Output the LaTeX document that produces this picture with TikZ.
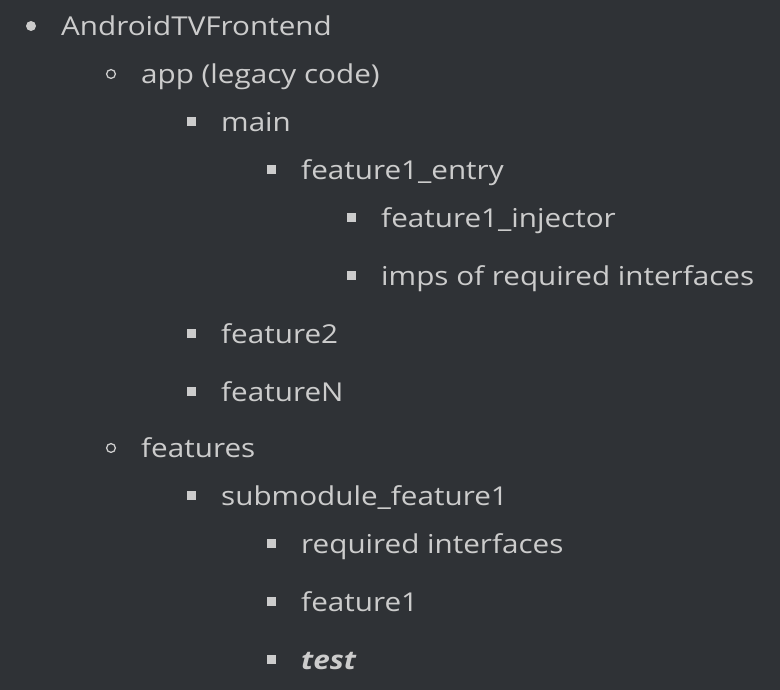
\documentclass[tikz,border=0pt]{standalone}
\usepackage{fontspec}
\setmainfont{Open Sans}[FakeStretch=1.14]
\definecolor{bg}{HTML}{2F3236}
\definecolor{fg}{HTML}{CCCCCC}
\begin{document}
\begin{tikzpicture}[x=1pt,y=1pt,
  item/.style={anchor=base west,inner sep=0pt,text=fg,font=\fontsize{26}{30}\selectfont},
  dotbullet/.style={fill=fg,draw=none},
  ringbullet/.style={draw=fg,line width=1.3pt,fill=none},
  sqbullet/.style={fill=fg,draw=none}]
\fill[bg] (0,0) rectangle (780,690);
\useasboundingbox (0,0) rectangle (780,690);
% level 0
\fill[dotbullet] (31,664) circle (5);
\node[item] (n1) at (61,654) {AndroidTVFrontend};
% level 1
\draw[ringbullet] (111,616) circle (4.4);
\node[item] (n2) at (141,606) {app (legacy code)};
\fill[sqbullet] (186.5,563.5) rectangle ++(9,9);
\node[item] (n3) at (221,558) {main};
\fill[sqbullet] (266.5,515.5) rectangle ++(9,9);
\node[item] (n4) at (301,510) {feature1\_entry};
\fill[sqbullet] (346.5,467.5) rectangle ++(9,9);
\node[item] (n5) at (381,462) {feature1\_injector};
\fill[sqbullet] (346.5,409.5) rectangle ++(9,9);
\node[item] (n6) at (381,404) {imps of required interfaces};
\fill[sqbullet] (186.5,351.5) rectangle ++(9,9);
\node[item] (n7) at (221,346) {feature2};
\fill[sqbullet] (186.5,293.5) rectangle ++(9,9);
\node[item] (n8) at (221,288) {featureN};
\draw[ringbullet] (111,242) circle (4.4);
\node[item] (n9) at (141,232) {features};
\fill[sqbullet] (186.5,189.5) rectangle ++(9,9);
\node[item] (n10) at (221,184) {submodule\_feature1};
\fill[sqbullet] (266.5,141.5) rectangle ++(9,9);
\node[item] (n11) at (301,136) {required interfaces};
\fill[sqbullet] (266.5,83.5) rectangle ++(9,9);
\node[item] (n12) at (301,78) {feature1};
\fill[sqbullet] (266.5,25.5) rectangle ++(9,9);
\node[item,font=\fontsize{26}{30}\selectfont\bfseries\itshape] (n13) at (301,20) {test};
\end{tikzpicture}
\end{document}
